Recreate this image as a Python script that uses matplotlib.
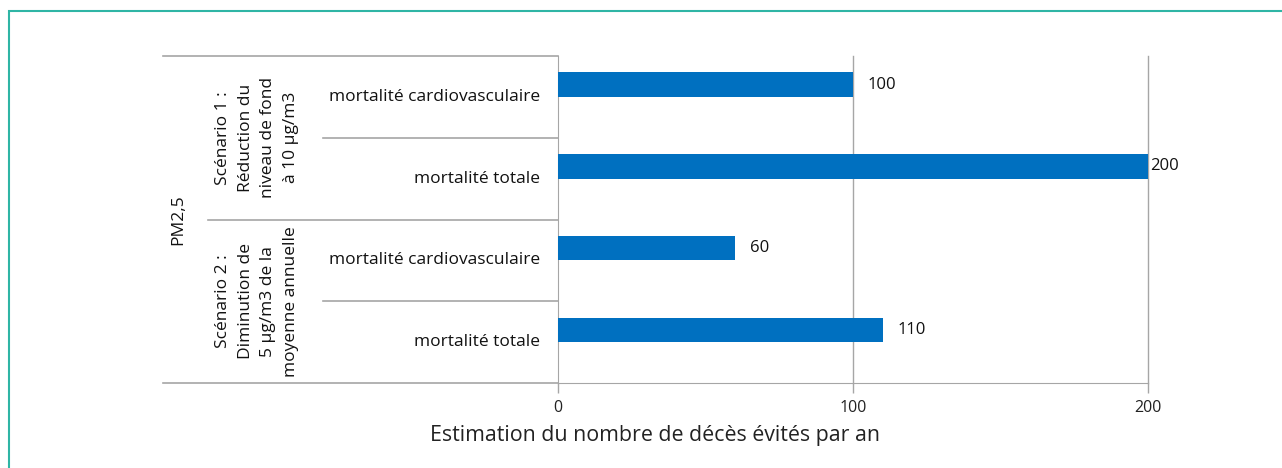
import matplotlib.pyplot as plt
from matplotlib.patches import Rectangle
import matplotlib.transforms as mtransforms

# Data
outcomes = ['mortalité cardiovasculaire', 'mortalité totale',
            'mortalité cardiovasculaire', 'mortalité totale']
values = [100, 200, 60, 110]
scenarios = ['Scénario 1 :\nRéduction du\nniveau de fond\nà 10 µg/m3',
             'Scénario 2 :\nDiminution de\n5 µg/m3 de la\nmoyenne annuelle']
pollutant = 'PM2,5'
xticks = [0, 100, 200]
xlabel = 'Estimation du nombre de décès évités par an'

plt.rcParams['font.family'] = ['Open Sans', 'DejaVu Sans']
W, H = 1282, 468
fig = plt.figure(figsize=(W / 100, H / 100), dpi=100)

# teal frame going off the right/bottom edge
fig.patches.append(Rectangle((9 / W, -0.1), 1.2, 1 - 11 / H + 0.1, transform=fig.transFigure,
                             fill=False, edgecolor='#2fb5a5', linewidth=1.5))

ax = fig.add_axes([558 / W, 1 - 383 / H, 590 / W, 327 / H])
grey = '#a6a6a6'
blue = '#0070c0'
txt = '#111111'

pos = list(range(len(values)))
bar_pos = [p - 0.15 for p in pos]
ax.barh(bar_pos, values, height=0.3, color=blue, zorder=3)
ax.set_ylim(len(values) - 0.5, -0.5)
ax.set_xlim(0, 200)
ax.set_xticks(xticks)
ax.tick_params(axis='x', colors=grey, length=7, width=1, labelcolor='#222222',
               labelsize=11.5, pad=5)
ax.tick_params(axis='y', left=False, labelleft=False)
for s in ['top', 'right']:
    ax.spines[s].set_visible(False)
ax.spines['left'].set_color(grey)
ax.spines['bottom'].set_color(grey)
for t in xticks[1:]:
    ax.axvline(t, color=grey, linewidth=1, clip_on=False, zorder=1)

# value labels
for p, v in zip(bar_pos, values):
    off = 2 if v >= ax.get_xlim()[1] else 15
    ax.annotate(str(v), (v, p), xytext=(off, 0), textcoords='offset pixels',
                va='center', ha='left', fontsize=12, color=txt, zorder=4)

# left hierarchical category area
tr = mtransforms.blended_transform_factory(ax.transAxes, ax.transData)
x_pm = (163 - 558) / 590
x_sc = (208 - 558) / 590
x_out = (323 - 558) / 590
line_kw = dict(color=grey, linewidth=1.2, transform=tr, clip_on=False)
ax.plot([x_pm, 0], [-0.5, -0.5], **line_kw)
ax.plot([x_pm, 0], [3.5, 3.5], **line_kw)
ax.plot([x_sc, 0], [1.5, 1.5], **line_kw)
ax.plot([x_out, 0], [0.5, 0.5], **line_kw)
ax.plot([x_out, 0], [2.5, 2.5], **line_kw)

for p, name in zip(pos, outcomes):
    ax.text(-18 / 590, p, name, transform=tr, ha='right', va='center',
            fontsize=12.5, color=txt)

for i, sc in enumerate(scenarios):
    ax.text((257 - 558) / 590, 2 * i + 0.5, sc, transform=tr, ha='center', va='center',
            rotation=90, fontsize=12.5, color=txt, linespacing=1.55,
            multialignment='center')

ax.text((178 - 558) / 590, 1.5, pollutant, transform=tr, ha='center', va='center',
        rotation=90, fontsize=12.5, color=txt)

fig.text(655 / W, 1 - 436 / H, xlabel, ha='center', va='center',
         fontsize=15.4, color='#222222')

fig.savefig('out.png', dpi=100)
